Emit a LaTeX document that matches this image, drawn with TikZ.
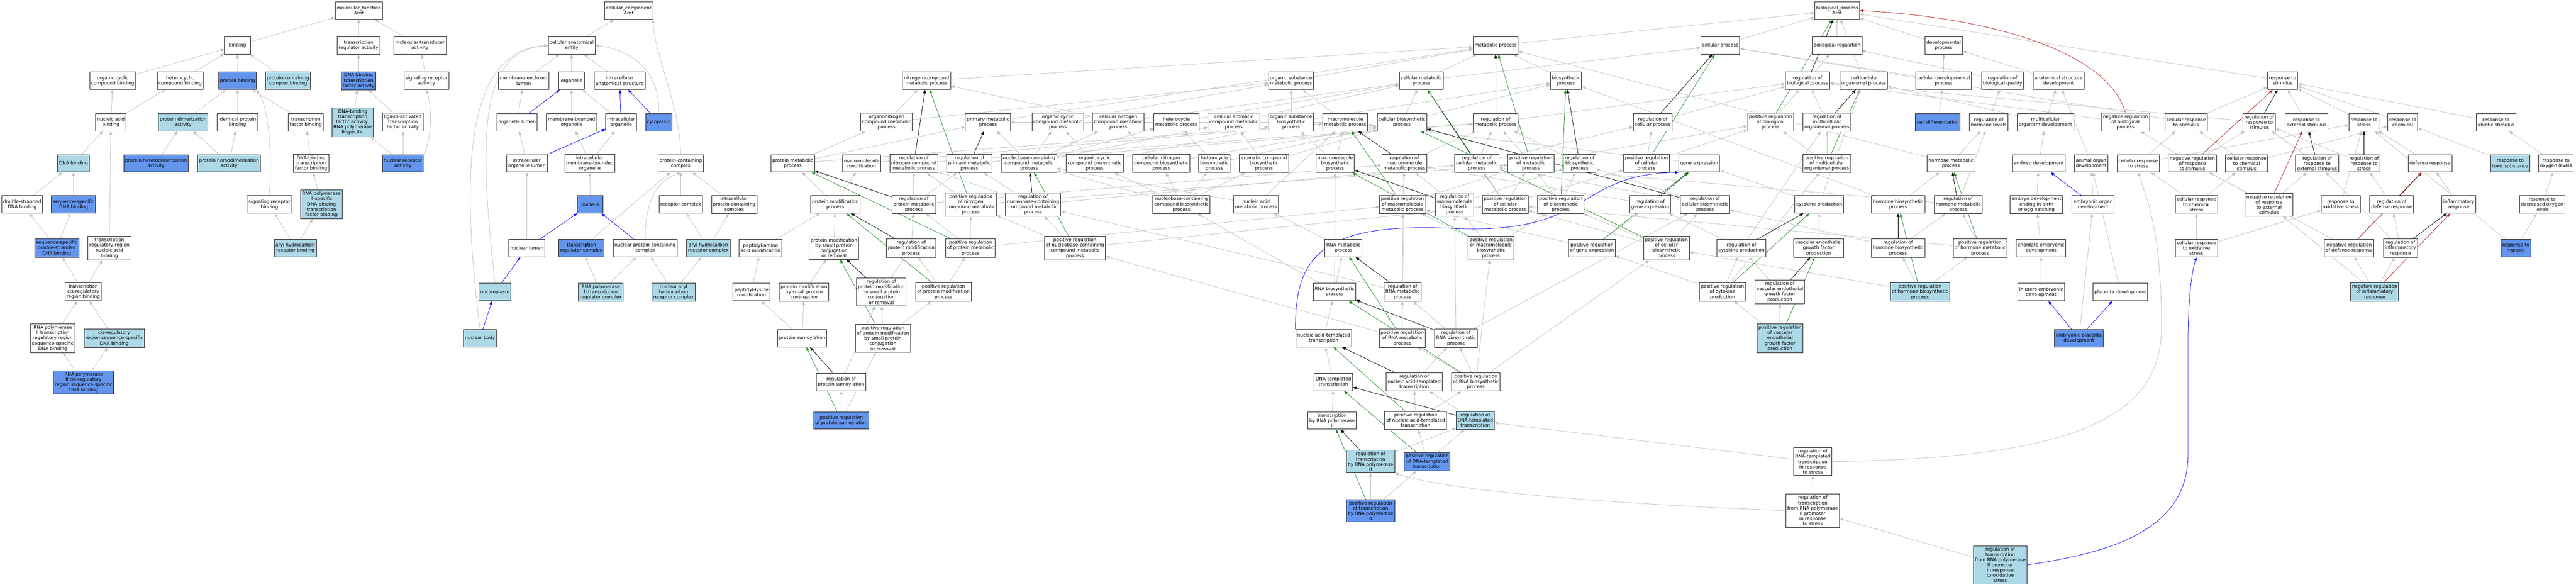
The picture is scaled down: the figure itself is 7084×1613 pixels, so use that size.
\documentclass[tikz,border=0pt]{standalone}
\usepackage{fontspec}
\setmainfont{DejaVu Sans}
\usetikzlibrary{arrows.meta}
\definecolor{lblue}{HTML}{ADD8E6}
\definecolor{cblue}{HTML}{6495ED}
\definecolor{fgreen}{HTML}{228B22}
\definecolor{fred}{HTML}{B22222}
\definecolor{egray}{HTML}{C0C0C0}
\pgfdeclarelayer{paper}
\pgfdeclarelayer{bg}
\pgfsetlayers{paper,bg,main}
\newcommand\cn[3][ezg]{\draw[#1] (#2) -- (#3);}
\tikzset{
 ndw/.style={draw=black!85, line width=1.3pt, rectangle, align=center, inner xsep=4pt, inner ysep=4.5pt, minimum height=48pt, minimum width=71pt, font=\fontsize{12.7}{14.4}\selectfont, fill=white},
 ndl/.style={ndw, fill=lblue},
 ndc/.style={ndw, fill=cblue},
 ezg/.style={draw=egray, line width=1.1pt, -{Triangle[length=10pt,width=8pt]}},
 ezk/.style={ezg, draw=black},
 ezb/.style={ezg, draw=blue},
 ezn/.style={ezg, draw=fgreen},
 ezr/.style={ezg, draw=fred}
}
\begin{document}
\begin{tikzpicture}[x=1pt,y=-1pt]
\begin{pgfonlayer}{paper}
\fill[white] (0,0) rectangle (7084,1613);
\end{pgfonlayer}
\useasboundingbox (0,0) rectangle (7084,1613);
% ---------------- molecular function
\node[ndw] (mf) at (987,29) {molecular\_function\\Arnt};
\node[ndw] (bind) at (653,125) {binding};
\node[ndw] (trreg) at (986,125) {transcription\\regulator activity};
\node[ndw] (moltr) at (1155,125) {molecular transducer\\activity};
\node[ndw] (ocb) at (310,222) {organic cyclic\\compound binding};
\node[ndw] (hcb) at (495.5,222) {heterocyclic\\compound binding};
\node[ndc] (pb) at (653,222) {protein binding};
\node[ndl] (pccb) at (792,222) {protein-containing\\complex binding};
\node[ndc] (dbtf) at (986,222) {DNA-binding\\transcription\\factor activity};
\node[ndw] (sra) at (1173,222) {signaling receptor\\activity};
\node[ndw] (nab) at (305,336) {nucleic acid\\binding};
\node[ndl] (pda) at (503.5,336) {protein dimerization\\activity};
\node[ndw] (ipb) at (653,336) {identical protein\\binding};
\node[ndw] (tfb) at (841,336) {transcription\\factor binding};
\node[ndl] (dbtf2) at (970,336) {DNA-binding\\transcription\\factor activity,\\RNA polymerase\\II-specific};
\node[ndw] (latf) at (1108,336) {ligand-activated\\transcription\\factor activity};
\node[ndl] (dnab) at (202,449) {DNA binding};
\node[ndc] (phd) at (429,449) {protein heterodimerization\\activity};
\node[ndl] (pho) at (630,449) {protein homodimerization\\activity};
\node[ndw] (dbtfb) at (855.6,449) {DNA-binding\\transcription\\factor binding};
\node[ndc] (nra) at (1108,449) {nuclear receptor\\activity};
\node[ndw] (dsdb) at (61,562) {double-stranded\\DNA binding};
\node[ndc] (ssdb) at (202.5,562) {sequence-specific\\DNA binding};
\node[ndw] (srb) at (741,562) {signaling receptor\\binding};
\node[ndl] (rp2tfb) at (884,562) {RNA polymerase\\II-specific\\DNA-binding\\transcription\\factor binding};
\node[ndc] (ssds) at (156,682) {sequence-specific\\double-stranded\\DNA binding};
\node[ndw] (trrnab) at (301,682) {transcription\\regulatory region\\nucleic acid\\binding};
\node[ndl] (ahrb) at (812,682) {aryl hydrocarbon\\receptor binding};
\node[ndw] (tcrb) at (229,802) {transcription\\cis-regulatory\\region binding};
\node[ndw] (rp2trr) at (145,930) {RNA polymerase\\II transcription\\regulatory region\\sequence-specific\\DNA binding};
\node[ndl] (crss) at (314,930) {cis-regulatory\\region sequence-specific\\DNA binding};
\node[ndc] (rp2cr) at (230,1051) {RNA polymerase\\II cis-regulatory\\region sequence-specific\\DNA binding};
% ---------------- cellular component
\node[ndw] (cc) at (1729,29) {cellular\_component\\Arnt};
\node[ndw] (cae) at (1572,125) {cellular anatomical\\entity};
\node[ndw] (mel) at (1440,222) {membrane-enclosed\\lumen};
\node[ndw] (org) at (1572,222) {organelle};
\node[ndw] (ias) at (1704,222) {intracellular\\anatomical structure};
\node[ndw] (ol) at (1422,336) {organelle lumen};
\node[ndw] (mbo) at (1572,336) {membrane-bounded\\organelle};
\node[ndw] (io) at (1708,336) {intracellular\\organelle};
\node[ndc] (cyto) at (1812,336) {cytoplasm};
\node[ndw] (iol) at (1449,449) {intracellular\\organelle lumen};
\node[ndw] (imbo) at (1622,449) {intracellular\\membrane-bounded\\organelle};
\node[ndw] (pcc) at (1872,449) {protein-containing\\complex};
\node[ndc] (nuc) at (1623,562) {nucleus};
\node[ndw] (rc) at (1872,562) {receptor complex};
\node[ndw] (ipcc) at (2019,562) {intracellular\\protein-containing\\complex};
\node[ndw] (nl) at (1449,682) {nuclear lumen};
\node[ndc] (trc) at (1599,682) {transcription\\regulator complex};
\node[ndw] (npcc) at (1774,682) {nuclear protein-containing\\complex};
\node[ndl] (ahrc) at (1948,682) {aryl hydrocarbon\\receptor complex};
\node[ndl] (np) at (1361,803) {nucleoplasm};
\node[ndl] (rp2trc) at (1652,803) {RNA polymerase\\II transcription\\regulator complex};
\node[ndl] (nahrc) at (1852,803) {nuclear aryl\\hydrocarbon\\receptor complex};
\node[ndl] (nb) at (1320,930) {nuclear body};
% ---------------- biological process
\node[ndw] (bp) at (5052,29) {biological\_process\\Arnt};
\node[ndw] (metp) at (4113,125) {metabolic process};
\node[ndw] (cellp) at (4730.5,125) {cellular process};
\node[ndw] (breg) at (5052,125) {biological regulation};
\node[ndw] (devp) at (5345,125) {developmental\\process};
\node[ndw] (ncmp) at (2548,222) {nitrogen compound\\metabolic process};
\node[ndw] (osmp) at (3550.5,222) {organic substance\\metabolic process};
\node[ndw] (cmp) at (3909,222) {cellular metabolic\\process};
\node[ndw] (bsp) at (4306.4,222) {biosynthetic\\process};
\node[ndw] (rbp) at (4970.6,222) {regulation of\\biological process};
\node[ndw] (mop) at (5125,222) {multicellular\\organismal process};
\node[ndw] (cdp) at (5345,222) {cellular developmental\\process};
\node[ndw] (rbq) at (5507,222) {regulation of\\biological quality};
\node[ndw] (asd) at (5661,222) {anatomical structure\\development};
\node[ndw] (rstim) at (6277,222) {response to\\stimulus};
% row 336
\node[ndw] (oncmp) at (2438,336) {organonitrogen\\compound metabolic\\process};
\node[ndw] (primp) at (2717,336) {primary metabolic\\process};
\node[ndw] (occmp) at (2909,336) {organic cyclic\\compound metabolic\\process};
\node[ndw] (cncmp) at (3075.5,336) {cellular nitrogen\\compound metabolic\\process};
\node[ndw] (hcmp) at (3235,336) {heterocycle\\metabolic process};
\node[ndw] (cacmp) at (3393,336) {cellular aromatic\\compound metabolic\\process};
\node[ndw] (osbp) at (3550.5,336) {organic substance\\biosynthetic\\process};
\node[ndw] (mmp) at (3699.6,336) {macromolecule\\metabolic process};
\node[ndw] (cbp) at (3855.3,336) {cellular biosynthetic\\process};
\node[ndw] (rmp) at (4113,336) {regulation of\\metabolic process};
\node[ndw] (rcp) at (4545,336) {regulation of\\cellular process};
\node[ndw] (prbp) at (4869,336) {positive regulation\\of biological\\process};
\node[ndw] (rmop) at (5024,336) {regulation of\\multicellular\\organismal process};
\node[ndc] (celldiff) at (5329,336) {cell differentiation};
\node[ndw] (rhl) at (5469,336) {regulation of\\hormone levels};
\node[ndw] (mod) at (5625,336) {multicellular\\organism development};
\node[ndw] (nrbp) at (5845,336) {negative regulation\\of biological\\process};
\node[ndw] (crstim) at (6011.7,336) {cellular response\\to stimulus};
\node[ndw] (rrs) at (6212.9,336) {regulation of\\response to\\stimulus};
\node[ndw] (rext) at (6342.7,336) {response to\\external stimulus};
\node[ndw] (rstress) at (6501,336) {response to\\stress};
\node[ndw] (rchem) at (6607.6,336) {response to\\chemical};
\node[ndw] (rabio) at (6864,336) {response to\\abiotic stimulus};
% row 449
\node[ndw] (pmp) at (2180,449) {protein metabolic\\process};
\node[ndw] (mm) at (2369.5,449) {macromolecule\\modification};
\node[ndw] (rncmp) at (2513,449) {regulation of\\nitrogen compound\\metabolic process};
\node[ndw] (rpmp) at (2666,449) {regulation of\\primary metabolic\\process};
\node[ndw] (nbcmp) at (2830,449) {nucleobase-containing\\compound metabolic\\process};
\node[ndw] (occbp) at (3010.5,449) {organic cyclic\\compound biosynthetic\\process};
\node[ndw] (cncbp) at (3193.4,449) {cellular nitrogen\\compound biosynthetic\\process};
\node[ndw] (hcbp) at (3339.6,449) {heterocycle\\biosynthetic\\process};
\node[ndw] (acbp) at (3476,449) {aromatic compound\\biosynthetic\\process};
\node[ndw] (mbp) at (3671.6,449) {macromolecule\\biosynthetic\\process};
\node[ndw] (rmmp) at (3862,449) {regulation of\\macromolecule\\metabolic process};
\node[ndw] (rcmp) at (4061,449) {regulation of\\cellular metabolic\\process};
\node[ndw] (prmp) at (4210,449) {positive regulation\\of metabolic\\process};
\node[ndw] (rbsp) at (4344,449) {regulation of\\biosynthetic\\process};
\node[ndw] (prcp) at (4527.6,449) {positive regulation\\of cellular\\process};
\node[ndw] (ge) at (4673,449) {gene expression};
\node[ndw] (prmop) at (5024,449) {positive regulation\\of multicellular\\organismal process};
\node[ndw] (hmp) at (5365,449) {hormone metabolic\\process};
\node[ndw] (ed) at (5606.6,449) {embryo development};
\node[ndw] (aod) at (5750.5,449) {animal organ\\development};
\node[ndw] (crstress) at (5880,449) {cellular response\\to stress};
\node[ndw] (nrrs) at (6029,449) {negative regulation\\of response\\to stimulus};
\node[ndw] (crchem) at (6178,449) {cellular response\\to chemical\\stimulus};
\node[ndw] (rrext) at (6372,449) {regulation of\\response to\\external stimulus};
\node[ndw] (rrstress) at (6501,449) {regulation of\\response to\\stress};
\node[ndw] (defr) at (6682.5,449) {defense response};
\node[ndl] (rtox) at (6903,449) {response to\\toxic substance};
\node[ndw] (roxl) at (7029,449) {response to\\oxygen levels};
% row 562
\node[ndw] (pmodp) at (2297,562) {protein modification\\process};
\node[ndw] (rpmetp) at (2513,562) {regulation of\\protein metabolic\\process};
\node[ndw] (prncmp) at (2669.6,562.7) {positive regulation\\of nitrogen\\compound metabolic\\process};
\node[ndw] (rnbcmp) at (2841,562.7) {regulation of\\nucleobase-containing\\compound metabolic\\process};
\node[ndw] (nbcbp) at (3249,562) {nucleobase-containing\\compound biosynthetic\\process};
\node[ndw] (namp) at (3454,562) {nucleic acid\\metabolic process};
\node[ndw] (prmmp) at (3857,562) {positive regulation\\of macromolecule\\metabolic process};
\node[ndw] (rmbp) at (4000,562.7) {regulation of\\macromolecule\\biosynthetic\\process};
\node[ndw] (prcmp) at (4139.6,562) {positive regulation\\of cellular\\metabolic process};
\node[ndw] (prbsp) at (4292,562) {positive regulation\\of biosynthetic\\process};
\node[ndw] (rge) at (4538,562) {regulation of\\gene expression};
\node[ndw] (rcbp) at (4689,562) {regulation of\\cellular biosynthetic\\process};
\node[ndw] (cytp) at (5002.8,562) {cytokine production};
\node[ndw] (hbp) at (5219.7,562) {hormone biosynthetic\\process};
\node[ndw] (rhmp) at (5385,562) {regulation of\\hormone metabolic\\process};
\node[ndw] (edb) at (5600,562) {embryo development\\ending in birth\\or egg hatching};
\node[ndw] (eod) at (5756,562) {embryonic organ\\development};
\node[ndw] (crcs) at (6040,562) {cellular response\\to chemical\\stress};
\node[ndw] (nrre) at (6239.8,562.7) {negative regulation\\of response\\to external\\stimulus};
\node[ndw] (roxs) at (6437,562) {response to\\oxidative stress};
\node[ndw] (rdef) at (6577,562) {regulation of\\defense response};
\node[ndw] (infl) at (6761.5,562) {inflammatory\\response};
\node[ndw] (rdox) at (6990.8,562) {response to\\decreased oxygen\\levels};
% row 682
\node[ndw] (pama) at (2091.5,682) {peptidyl-amino\\acid modification};
\node[ndw] (pmsp) at (2293.5,682) {protein modification\\by small protein\\conjugation\\or removal};
\node[ndw] (rpmodp) at (2506,682) {regulation of\\protein modification\\process};
\node[ndw] (prpmp) at (2669,682) {positive regulation\\of protein metabolic\\process};
\node[ndw] (prnbc) at (2956,682) {positive regulation\\of nucleobase-containing\\compound metabolic\\process};
\node[ndw] (rnamp) at (3694.6,682) {RNA metabolic\\process};
\node[ndw] (prmbp) at (4100,682) {positive regulation\\of macromolecule\\biosynthetic\\process};
\node[ndw] (prge) at (4378,682) {positive regulation\\of gene expression};
\node[ndw] (prcbp) at (4582.7,682) {positive regulation\\of cellular\\biosynthetic\\process};
\node[ndw] (rcyt) at (4789,682) {regulation of\\cytokine production};
\node[ndw] (vegf) at (5001,682) {vascular endothelial\\growth factor\\production};
\node[ndw] (rhbp) at (5219.7,682) {regulation of\\hormone biosynthetic\\process};
\node[ndw] (prhmp) at (5445,682) {positive regulation\\of hormone metabolic\\process};
\node[ndw] (ced) at (5613,682) {chordate embryonic\\development};
\node[ndw] (croxs) at (6040,682) {cellular response\\to oxidative\\stress};
\node[ndw] (nrdef) at (6460,682) {negative regulation\\of defense response};
\node[ndw] (rinfl) at (6601,682) {regulation of\\inflammatory\\response};
\node[ndc] (rhyp) at (6918.6,682) {response to\\hypoxia};
% row 802
\node[ndw] (plm) at (2066.6,803) {peptidyl-lysine\\modification};
\node[ndw] (pmsc) at (2211,803) {protein modification\\by small protein\\conjugation};
\node[ndw] (rpmsp) at (2423.5,802.5) {regulation of\\protein modification\\by small protein\\conjugation\\or removal};
\node[ndw] (prpmod) at (2594.6,802.5) {positive regulation\\of protein modification\\process};
\node[ndw] (rnabp) at (3670,802.5) {RNA biosynthetic\\process};
\node[ndw] (rrnamp) at (3857,802.5) {regulation of\\RNA metabolic\\process};
\node[ndw] (prcyt) at (4737,802.5) {positive regulation\\of cytokine\\production};
\node[ndw] (rvegf) at (4894.5,802.5) {regulation of\\vascular endothelial\\growth factor\\production};
\node[ndl] (prhbp) at (5280,802.5) {positive regulation\\of hormone biosynthetic\\process};
\node[ndw] (iued) at (5613,803) {in utero embryonic\\development};
\node[ndw] (placd) at (5831,803) {placenta development};
\node[ndl] (nrinfl) at (6530.4,802.5) {negative regulation\\of inflammatory\\response};
% row 930
\node[ndw] (psumo) at (2206,930) {protein sumoylation};
\node[ndw] (prpmsp) at (2428,930) {positive regulation\\of protein modification\\by small protein\\conjugation\\or removal};
\node[ndw] (natt) at (3640,930) {nucleic acid-templated\\transcription};
\node[ndw] (prrnamp) at (3856,930) {positive regulation\\of RNA metabolic\\process};
\node[ndw] (rrnabp) at (4004,930) {regulation of\\RNA biosynthetic\\process};
\node[ndl] (prvegf) at (4895,930) {positive regulation\\of vascular\\endothelial\\growth factor\\production};
\node[ndc] (epd) at (5716.8,930) {embryonic placenta\\development};
% row 1050
\node[ndw] (rsumo) at (2313,1050) {regulation of\\protein sumoylation};
\node[ndw] (dtt) at (3666.7,1050) {DNA-templated\\transcription};
\node[ndw] (rnatt) at (3889,1050) {regulation of\\nucleic acid-templated\\transcription};
\node[ndw] (prrnabp) at (4058.5,1050) {positive regulation\\of RNA biosynthetic\\process};
% row 1156
\node[ndc] (prsumo) at (2313.5,1156) {positive regulation\\of protein sumoylation};
\node[ndw] (trp2) at (3663.6,1156) {transcription\\by RNA polymerase\\II};
\node[ndw] (prnatt) at (3893,1156) {positive regulation\\of nucleic acid-templated\\transcription};
\node[ndl] (rdtt) at (4057,1156) {regulation of\\DNA-templated\\transcription};
% lower rows
\node[ndl] (rtrp2) at (3769,1269) {regulation of\\transcription\\by RNA polymerase\\II};
\node[ndc] (prdtt) at (3925,1269) {positive regulation\\of DNA-templated\\transcription};
\node[ndw] (rdtts) at (4985,1269) {regulation of\\DNA-templated\\transcription\\in response\\to stress};
\node[ndc] (prtrp2) at (3769,1404) {positive regulation\\of transcription\\by RNA polymerase\\II};
\node[ndw] (rtrp2s) at (4985,1404) {regulation of\\transcription\\from RNA polymerase\\II promoter\\in response\\to stress};
\node[ndl] (rtrp2ox) at (5500.6,1553) {regulation of\\transcription\\from RNA polymerase\\II promoter\\in response\\to oxidative\\stress};

\begin{pgfonlayer}{bg}
% MF edges
\cn{bind}{mf}\cn{trreg}{mf}\cn{moltr}{mf}\cn{ocb}{bind}\cn{hcb}{bind}\cn{pb}{bind}\cn{pccb}{bind}
\cn{dbtf}{trreg}\cn{sra}{moltr}\cn{nab}{ocb}\cn{nab}{hcb}\cn{pda}{pb}\cn{ipb}{pb}\cn{tfb}{pb}
\draw[ezg] (srb.north) .. controls (748,420) and (740,300) .. (pb.south east);
\cn{dbtf2}{dbtf}\cn{latf}{dbtf}\cn{dnab}{nab}\cn{trrnab}{nab}\cn{phd}{pda}\cn{pho}{pda}\cn{pho}{ipb}
\cn{dbtfb}{tfb}\cn{nra}{dbtf2}\cn{nra}{latf}
\draw[ezg] (nra.north east) .. controls (1188,380) and (1188,300) .. (sra.south);
\cn{dsdb}{dnab}\cn{ssdb}{dnab}\cn{ssds}{dsdb}\cn{ssds}{ssdb}\cn{ahrb}{srb}\cn{ahrb}{rp2tfb}\cn{rp2tfb}{dbtfb}
\cn{tcrb}{ssds}\cn{tcrb}{trrnab}\cn{rp2trr}{tcrb}\cn{crss}{tcrb}\cn{rp2cr}{rp2trr}\cn{rp2cr}{crss}
% CC edges
\cn{cae}{cc}
\draw[ezg] (pcc.north) .. controls (1872,300) and (1800,150) .. (cc.south east);
\cn{mel}{cae}\cn{org}{cae}\cn{ias}{cae}
\draw[ezg] (cyto.north) .. controls (1815,180) and (1720,135) .. (cae.east);
\draw[ezg] (np.north) .. controls (1320,400) and (1310,140) .. (cae.west);
\draw[ezg] (nb.north) .. controls (1270,500) and (1270,140) .. (cae.west);
\cn{ol}{mel}\cn{mbo}{org}\cn{io}{org}\cn{iol}{ol}\cn{imbo}{mbo}\cn{imbo}{io}\cn{nuc}{imbo}\cn{nl}{iol}
\draw[ezg] (npcc.north) .. controls (1775,560) and (1800,500) .. (pcc.south);
\cn{trc}{pcc}\cn{rc}{pcc}\cn{ipcc}{pcc}\cn{ahrc}{rc}\cn{ahrc}{ipcc}\cn{rp2trc}{trc}\cn{rp2trc}{npcc}
\cn{nahrc}{npcc}\cn{nahrc}{ahrc}
\cn[ezb]{ol}{org}\cn[ezb]{io}{ias}\cn[ezb]{cyto}{ias}\cn[ezb]{iol}{io}\cn[ezb]{nl}{nuc}\cn[ezb]{npcc}{nuc}
\cn[ezb]{np}{nl}\cn[ezb]{nb}{np}
% BP top
\cn{metp}{bp}\cn{cellp}{bp}\cn{breg}{bp}\cn{devp}{bp}\cn{mop}{bp}\cn{rstim}{bp}
\cn[ezk]{rbp}{bp}\cn[ezn]{prbp}{bp}
\draw[ezr] (nrbp.north) .. controls (5800,150) and (5500,50) .. (bp.east);
\cn{rbp}{breg}\cn{prbp}{rbp}\cn{nrbp}{rbp}\cn{rmop}{rbp}\cn{prmop}{rmop}\cn{prmop}{prbp}
\cn[ezk]{rmop}{mop}\cn[ezn]{prmop}{mop}
\cn{cdp}{devp}\cn{cdp}{cellp}\cn{celldiff}{cdp}\cn{rbq}{breg}\cn{asd}{devp}\cn{rhl}{rbq}\cn{mod}{asd}\cn{mod}{mop}
\cn{hmp}{rhl}\cn{hmp}{metp}\cn{hbp}{hmp}\cn{hbp}{bsp}\cn{rhmp}{rhl}\cn{rhmp}{rcmp}\cn{rhbp}{rhmp}\cn{rhbp}{rcbp}
\cn{prhmp}{rhmp}\cn{prhmp}{prcmp}\cn{prhbp}{rhbp}\cn{prhbp}{prhmp}\cn{prhbp}{prcbp}
\cn[ezk]{rhmp}{hmp}\cn[ezk]{rhbp}{hbp}\cn[ezn]{prhmp}{hmp}\cn[ezn]{prhbp}{hbp}
\cn{ed}{mod}\cn{edb}{ed}\cn{ced}{edb}\cn{iued}{ced}\cn{eod}{aod}\cn{epd}{eod}\cn{placd}{aod}\cn{aod}{asd}
\cn[ezb]{eod}{ed}\cn[ezb]{epd}{iued}\cn[ezb]{epd}{placd}
\cn{cytp}{mop}\cn{cytp}{ge}\cn{vegf}{cytp}\cn{rcyt}{rmop}\cn{rcyt}{rge}\cn{rvegf}{rcyt}\cn{prcyt}{rcyt}
\cn{prcyt}{prmop}\cn{prcyt}{prge}\cn{prvegf}{rvegf}\cn{prvegf}{prcyt}
\cn[ezk]{rcyt}{cytp}\cn[ezk]{rvegf}{vegf}\cn[ezn]{prcyt}{cytp}\cn[ezn]{prvegf}{vegf}
% response
\cn{crstim}{rstim}\cn{crstim}{cellp}\cn{rrs}{rbp}\cn{rext}{rstim}\cn{rstress}{rstim}\cn{rchem}{rstim}\cn{rabio}{rstim}
\cn{nrrs}{rrs}\cn{nrrs}{nrbp}\cn{crchem}{crstim}\cn{crchem}{rchem}\cn{crstress}{crstim}\cn{crstress}{rstress}
\cn{rrext}{rrs}\cn{rrstress}{rrs}\cn{defr}{rstress}\cn{rtox}{rchem}\cn{roxl}{rabio}\cn{crcs}{crstress}\cn{crcs}{crchem}
\cn{nrre}{rrext}\cn{nrre}{nrrs}\cn{roxs}{rstress}\cn{rdef}{rrstress}\cn{infl}{defr}\cn{rdox}{roxl}
\cn{croxs}{crcs}\cn{croxs}{roxs}\cn{nrdef}{rdef}\cn{nrdef}{nrrs}\cn{rinfl}{rdef}\cn{rinfl}{rrext}
\cn{nrinfl}{nrdef}\cn{nrinfl}{rinfl}\cn{nrinfl}{nrre}\cn{rhyp}{rdox}\cn{rhyp}{rstress}
\cn[ezk]{rrs}{rstim}\cn[ezk]{rrext}{rext}\cn[ezk]{rrstress}{rstress}\cn[ezk]{rdef}{defr}\cn[ezk]{rinfl}{infl}
\cn[ezr]{nrrs}{rstim}\cn[ezr]{nrre}{rext}\cn[ezr]{nrdef}{defr}\cn[ezr]{nrinfl}{infl}
% transcription in response to stress
\cn{rdtts}{rdtt}
\draw[ezg] (rdtts.east) .. controls (5700,1260) and (5944,1150) .. (5944,900) .. controls (5944,620) and (5900,540) .. (crstress.south);
\cn{rtrp2s}{rdtts}
\draw[ezg] (rtrp2s.west) .. controls (4300,1380) and (3950,1340) .. (rtrp2.south east);
\cn{rtrp2ox}{rtrp2s}
\draw[ezb] (rtrp2ox.east) .. controls (5800,1520) and (6017,1460) .. (6017,1250) -- (6017,950) .. controls (6017,800) and (6030,740) .. (croxs.south);
% metabolic
\cn{ncmp}{metp}\cn{osmp}{metp}\cn{primp}{metp}\cn{cmp}{metp}\cn{cmp}{cellp}\cn{bsp}{metp}
\cn[ezk]{rmp}{metp}\cn[ezn]{prmp}{metp}
\cn{oncmp}{ncmp}\cn{oncmp}{osmp}\cn{pmp}{oncmp}\cn{pmp}{mmp}\cn{pmp}{primp}\cn{mm}{mmp}
\cn{pmodp}{pmp}\cn{pmodp}{mm}\cn{pama}{pmodp}\cn{pmsp}{pmodp}\cn{plm}{pama}\cn{pmsc}{pmsp}\cn{psumo}{plm}\cn{psumo}{pmsc}
\cn[ezk]{rpmetp}{pmp}\cn[ezk]{rpmodp}{pmodp}\cn[ezk]{rpmsp}{pmsp}\cn[ezk]{rsumo}{psumo}
\cn[ezn]{prpmp}{pmp}\cn[ezn]{prpmod}{pmodp}\cn[ezn]{prpmsp}{pmsp}\cn[ezn]{prsumo}{psumo}\cn[ezn]{prncmp}{ncmp}\cn[ezn]{prnbc}{nbcmp}
\cn{rsumo}{rpmsp}\cn{prsumo}{rsumo}\cn{prsumo}{prpmsp}\cn{prpmsp}{rpmsp}\cn{prpmsp}{prpmod}\cn{rpmsp}{rpmodp}
\cn{prpmod}{rpmodp}\cn{prpmod}{prpmp}\cn{rpmodp}{rpmetp}\cn{prpmp}{rpmetp}\cn{prpmp}{prncmp}\cn{prpmp}{prmmp}
\cn{rpmetp}{rncmp}\cn{rpmetp}{rpmp}\cn{rpmetp}{rmmp}\cn{prncmp}{rncmp}\cn{prncmp}{prmp}
\cn[ezk]{rncmp}{ncmp}\cn[ezk]{rpmp}{primp}\cn[ezk]{rnbcmp}{nbcmp}
\cn{rncmp}{rmp}\cn{rpmp}{rmp}\cn{rnbcmp}{rpmp}\cn{rnbcmp}{rncmp}\cn{rnbcmp}{rcmp}
\cn{prnbc}{rnbcmp}\cn{prnbc}{prncmp}\cn{prnbc}{prcmp}
\cn{occmp}{osmp}\cn{cncmp}{ncmp}\cn{cncmp}{cmp}\cn{hcmp}{cmp}\cn{cacmp}{cmp}\cn{osbp}{osmp}\cn{osbp}{bsp}
\cn{nbcmp}{occmp}\cn{nbcmp}{cncmp}\cn{nbcmp}{hcmp}\cn{nbcmp}{cacmp}\cn{nbcmp}{primp}
\cn{occbp}{occmp}\cn{occbp}{osbp}\cn{cncbp}{cncmp}\cn{cncbp}{cbp}\cn{hcbp}{hcmp}\cn{hcbp}{cbp}\cn{acbp}{cacmp}\cn{acbp}{cbp}
\cn{nbcbp}{nbcmp}\cn{nbcbp}{occbp}\cn{nbcbp}{cncbp}\cn{nbcbp}{hcbp}\cn{nbcbp}{acbp}
\cn{namp}{nbcmp}\cn{namp}{mmp}
\cn{mmp}{osmp}\cn{mmp}{primp}\cn{cbp}{cmp}\cn{cbp}{bsp}\cn{mbp}{mmp}\cn{mbp}{osbp}\cn{ge}{mmp}
\cn[ezk]{rmmp}{mmp}\cn[ezk]{rcmp}{cmp}\cn[ezk]{rbsp}{bsp}\cn[ezk]{rcp}{cellp}\cn[ezk]{rge}{ge}\cn[ezk]{rcbp}{cbp}\cn[ezk]{rmbp}{mbp}
\cn[ezn]{prcp}{cellp}\cn[ezn]{prmmp}{mmp}\cn[ezn]{prcmp}{cmp}\cn[ezn]{prbsp}{bsp}\cn[ezn]{prmbp}{mbp}\cn[ezn]{prge}{ge}\cn[ezn]{prcbp}{cbp}
\cn{rmp}{rbp}\cn{rmmp}{rmp}\cn{rcmp}{rmp}\cn{rcmp}{rcp}\cn{prmp}{rmp}\cn{prmp}{prbp}\cn{rbsp}{rmp}\cn{prcp}{rcp}\cn{prcp}{prbp}\cn{rcp}{rbp}
\cn{prmmp}{rmmp}\cn{prmmp}{prmp}\cn{rmbp}{rmmp}\cn{rmbp}{rbsp}\cn{prcmp}{rcmp}\cn{prcmp}{prmp}\cn{prcmp}{prcp}
\cn{prbsp}{rbsp}\cn{prbsp}{prmp}\cn{rge}{rmmp}\cn{rcbp}{rbsp}\cn{rcbp}{rcmp}
\cn{prmbp}{rmbp}\cn{prmbp}{prmmp}\cn{prmbp}{prbsp}\cn{prge}{rge}\cn{prge}{prmmp}\cn{prcbp}{rcbp}\cn{prcbp}{prbsp}\cn{prcbp}{prcmp}
% RNA
\cn{rnamp}{namp}\cn{rnabp}{rnamp}\cn{rnabp}{nbcbp}\cn{rnabp}{mbp}\cn{natt}{rnabp}\cn{dtt}{natt}\cn{trp2}{dtt}
\draw[ezb] (natt.north west) .. controls (3560,700) and (3640,610) .. (4000,628) .. controls (4380,645) and (4330,480) .. (ge.south west);
\cn[ezk]{rrnamp}{rnamp}\cn[ezk]{rrnabp}{rnabp}\cn[ezk]{rnatt}{natt}\cn[ezk]{rdtt}{dtt}\cn[ezk]{rtrp2}{trp2}
\cn[ezn]{prrnamp}{rnamp}\cn[ezn]{prrnabp}{rnabp}\cn[ezn]{prnatt}{natt}\cn[ezn]{prdtt}{dtt}\cn[ezn]{prtrp2}{trp2}
\cn{rrnamp}{rnbcmp}\cn{rrnamp}{rmmp}\cn{prrnamp}{rrnamp}\cn{prrnamp}{prnbc}\cn{prrnamp}{prmmp}
\cn{rrnabp}{rrnamp}\cn{rrnabp}{rmbp}\cn{rrnabp}{rcbp}\cn{rnatt}{rrnabp}
\cn{prrnabp}{rrnabp}\cn{prrnabp}{prrnamp}\cn{prrnabp}{prmbp}\cn{prrnabp}{prcbp}
\cn{prnatt}{rnatt}\cn{prnatt}{prrnabp}\cn{rdtt}{rnatt}\cn{rtrp2}{rdtt}\cn{prdtt}{prnatt}\cn{prdtt}{rdtt}
\cn{prtrp2}{rtrp2}\cn{prtrp2}{prdtt}
\end{pgfonlayer}
\end{tikzpicture}
\end{document}
